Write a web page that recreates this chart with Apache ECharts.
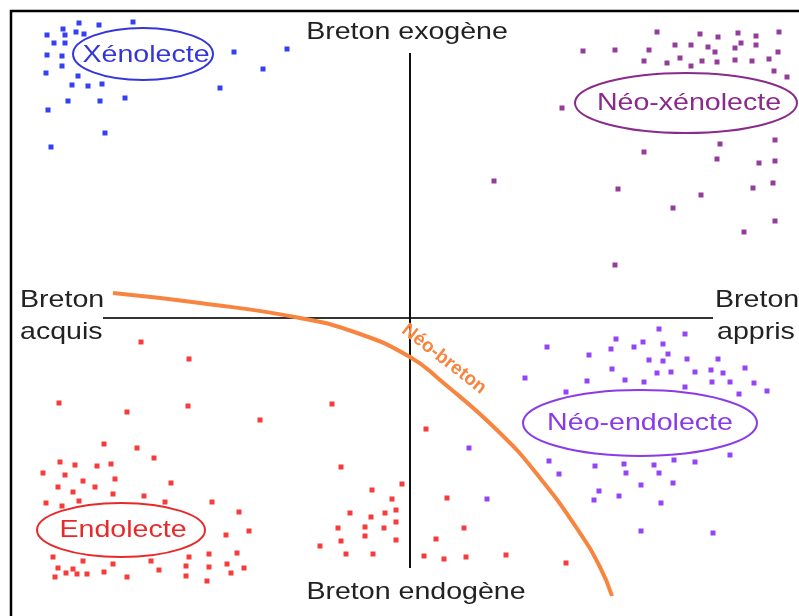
<!DOCTYPE html>
<html><head><meta charset="utf-8">
<script src="https://cdn.jsdelivr.net/npm/echarts@6/dist/echarts.min.js"></script>
<style>html,body{margin:0;padding:0;background:#fff}#c{width:799px;height:616px}</style>
</head><body><div id="c"></div>
<script>
// Scale: x = acquis (-) ... appris (+) ; y = endogène (-) ... exogène (+)
const xenolecte = [[-331,295],[-311,293],[-277,296],[-347,289],[-334,286],[-326,284],[-363,283],[-345,283],[-356,275],[-345,275],[-363,263],[-348,262],[-348,252],[-364,245],[-332,242],[-338,233],[-322,232],[-308,234],[-342,217],[-310,217],[-285,220],[-362,208],[-305,185],[-359,171],[-176,266],[-123,269],[-147,249],[-190,230]];
const neoXenolecte = [[247,286],[290,284],[308,281],[328,285],[346,282],[369,286],[173,267],[205,268],[239,268],[265,273],[281,273],[298,271],[305,266],[325,270],[331,275],[346,273],[368,266],[234,257],[257,255],[270,260],[281,252],[292,257],[307,256],[325,258],[342,257],[359,259],[364,247],[377,241],[152,210],[310,174],[365,178],[234,166],[307,159],[349,155],[365,157],[84,137],[208,129],[291,123],[343,130],[363,135],[263,110],[365,97],[334,86],[205,53]];
const neoEndolecte = [[249,-11],[275,-16],[206,-21],[233,-24],[253,-26],[137,-29],[224,-29],[201,-31],[179,-37],[258,-36],[239,-42],[253,-43],[277,-41],[308,-41],[202,-51],[247,-55],[261,-54],[285,-54],[301,-52],[313,-55],[335,-50],[115,-60],[177,-63],[215,-62],[234,-64],[275,-69],[302,-64],[320,-64],[344,-65],[357,-73],[329,-76],[156,-74],[139,-143],[149,-156],[185,-148],[214,-146],[216,-155],[244,-147],[249,-155],[264,-142],[285,-144],[320,-137],[263,-165],[231,-167],[189,-173],[184,-182],[209,-178],[251,-185],[231,-213],[303,-215],[59,-130],[77,-181]];
const endolecte = [[-269,-24],[-221,-41],[-351,-85],[-283,-94],[-222,-88],[-150,-102],[-306,-126],[-273,-130],[-256,-140],[-350,-144],[-335,-147],[-313,-148],[-299,-146],[-367,-155],[-345,-157],[-327,-163],[-295,-161],[-239,-165],[-352,-169],[-337,-174],[-315,-169],[-297,-176],[-266,-178],[-364,-185],[-348,-188],[-331,-183],[-245,-184],[-198,-184],[-171,-194],[-184,-217],[-161,-213],[-357,-239],[-327,-243],[-297,-246],[-259,-243],[-221,-239],[-201,-236],[-173,-235],[-352,-250],[-337,-251],[-344,-255],[-333,-256],[-323,-256],[-306,-254],[-283,-259],[-251,-252],[-224,-248],[-201,-249],[-183,-246],[-166,-250],[-355,-259],[-224,-258],[-203,-263],[-179,-255],
  [-78,-86],[16,-111],[-69,-149],[-8,-166],[-38,-172],[-18,-181],[37,-180],[-60,-195],[-39,-199],[-25,-195],[-14,-192],[-72,-210],[-45,-209],[-26,-210],[-14,-204],[54,-210],[-45,-218],[-69,-223],[-14,-222],[26,-221],[-90,-228],[-64,-236],[-37,-236],[14,-238],[34,-241],[56,-239],[96,-237],[156,-245]];
const neoBreton = [[-297,25],[-210,15],[-110,0],[-50,-16],[0,-39],[30,-62],[90,-115],[130,-160],[168,-212],[190,-249],[202,-278]];
const axisAcquisAppris = [[-307,0],[303,0]];
const axisEndoExo = [[0,265],[0,-250]];

const FONT = '"Liberation Sans", Arial, sans-serif';
const SX = 1.19;
function txt(str, x, y, size, color, align) {
  return {type:'text', x:x, y:y, scaleX:SX, z:100,
    style:{text:str, x:0, y:0, font: size+'px '+FONT, fill:color,
      align:align||'center', verticalAlign:'middle', textAlign:align||'center', textVerticalAlign:'middle'}};
}
function ell(cx, cy, rx, ry, color) {
  return {type:'ellipse', z:90, shape:{cx:cx, cy:cy, rx:rx, ry:ry}, style:{fill:'#ffffff', stroke:color, lineWidth:2}};
}

const chart = echarts.init(document.getElementById('c'), null, {renderer:'canvas'});
const sc = (data, color) => ({type:'scatter', data:data, symbol:'rect', symbolSize:5, itemStyle:{color:color}, silent:true, z:3});
chart.setOption({
  animation:false,
  backgroundColor:'#ffffff',
  grid:{left:10, right:0, top:10, bottom:0},
  xAxis:{type:'value', min:-400, max:389, show:false},
  yAxis:{type:'value', min:-298, max:308, show:false},
  series:[
    {type:'line', data:axisAcquisAppris, symbol:'none', lineStyle:{color:'#333', width:2}, silent:true, z:1},
    {type:'line', data:axisEndoExo, symbol:'none', lineStyle:{color:'#111', width:2}, silent:true, z:1},
    sc(xenolecte, '#0010f0'),
    sc(neoXenolecte, '#7a0a86'),
    sc(neoEndolecte, '#7a14f5'),
    sc(endolecte, '#f50a0a'),
    {type:'line', data:neoBreton, smooth:true, symbol:'none', lineStyle:{color:'#f7853f', width:4}, silent:true, z:4}
  ],
  graphic:[
    {type:'polyline', z:100, shape:{points:[[11,616],[11,11],[799,11]]}, style:{stroke:'#000', lineWidth:2.5, fill:null}},
    ell(143,54,70,26,'#3535dc'),
    ell(686,103,111,30,'#8a2a8a'),
    ell(640,423,117,33,'#8a3ae6'),
    ell(121,530,84,27,'#e62a2a'),
    txt('Xénolecte',146,55,24,'#3535dc'),
    txt('Néo-xénolecte',689,103,24,'#8a2a8a'),
    txt('Néo-endolecte',640,423,24,'#8a3ae6'),
    txt('Endolecte',123,530,24,'#e62a2a'),
    txt('Breton exogène',407,32,24,'#222'),
    txt('Breton endogène',416,592,24,'#222'),
    txt('Breton',20,300,24,'#222','left'),
    txt('acquis',20,332,24,'#222','left'),
    txt('Breton',715,300,24,'#222','left'),
    txt('appris',717,332,24,'#222','left'),
    {type:'text', x:444, y:359, rotation:-38*Math.PI/180, z:100,
      style:{text:'Néo-breton', x:0, y:0, font:'bold 19px '+FONT, fill:'#f7853f',
        align:'center', verticalAlign:'middle', textAlign:'center', textVerticalAlign:'middle'}}
  ]
});
</script></body></html>
